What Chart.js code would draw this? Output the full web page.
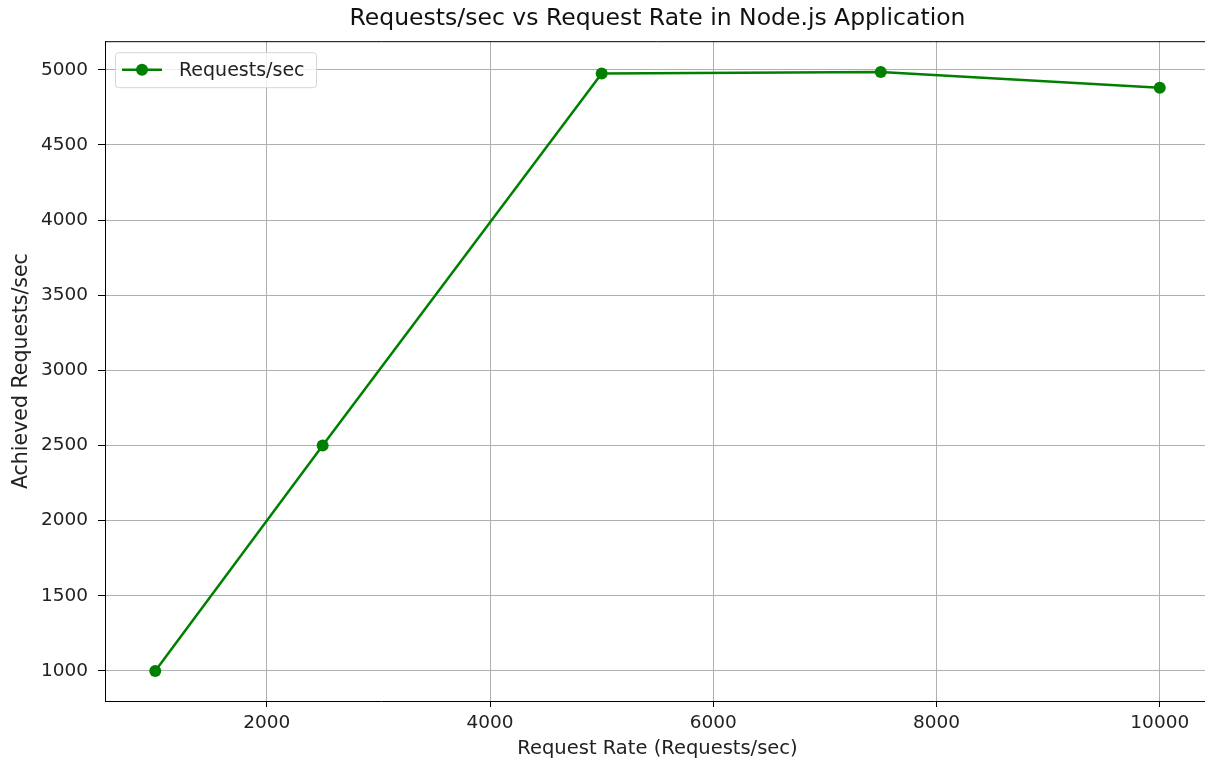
<!DOCTYPE html>
<html>
<head>
<meta charset="utf-8">
<style>
  html, body { margin: 0; padding: 0; background: #fff; overflow: hidden; }
  #clip { width: 1205px; height: 763px; overflow: hidden; }
  #wrap { width: 1216px; height: 763px; position: relative; }
</style>
<script src="https://cdn.jsdelivr.net/npm/chart.js@4/dist/chart.umd.min.js"></script>
</head>
<body>
<div id="clip"><div id="wrap"><canvas id="chart"></canvas></div></div>
<script>
/* -------------------- data -------------------- */
const requestRates = [1000, 2500, 5000, 7500, 10000];
const achievedRps  = [1000, 2500, 4975, 4985, 4880];
const xTicks = [2000, 4000, 6000, 8000, 10000];
const yTicks = [1000, 1500, 2000, 2500, 3000, 3500, 4000, 4500, 5000];

const GREEN = '#008000';
const FONT = 'DejaVu Sans';
const TEXT = '#222';

// frame (top/right spines) + legend box inside the axes, matplotlib style
const framePlugin = {
  id: 'frame',
  afterDatasetsDraw(chart) {
    const { ctx, chartArea: a } = chart;
    ctx.save();
    ctx.strokeStyle = '#000';
    ctx.lineWidth = 1;
    ctx.beginPath();
    ctx.moveTo(a.left, a.top + 0.5);
    ctx.lineTo(a.right, a.top + 0.5);
    ctx.lineTo(a.right - 0.5, a.bottom);
    ctx.stroke();

    // legend
    const ds = chart.data.datasets[0];
    const x = a.left + 10, y = a.top + 11, w = 201, h = 35;
    ctx.fillStyle = 'rgba(255,255,255,0.8)';
    ctx.strokeStyle = '#d5d5d5';
    ctx.lineWidth = 1;
    ctx.beginPath();
    ctx.roundRect(x + 0.5, y + 0.5, w, h, 3);
    ctx.fill();
    ctx.stroke();
    const cy = y + h / 2;
    ctx.strokeStyle = GREEN;
    ctx.lineWidth = 2.5;
    ctx.beginPath();
    ctx.moveTo(x + 7, cy);
    ctx.lineTo(x + 47, cy);
    ctx.stroke();
    ctx.fillStyle = GREEN;
    ctx.beginPath();
    ctx.arc(x + 27, cy, 6, 0, Math.PI * 2);
    ctx.fill();
    ctx.fillStyle = TEXT;
    ctx.font = `19px "${FONT}"`;
    ctx.textBaseline = 'middle';
    ctx.fillText(ds.label, x + 64, cy + 1);
    ctx.restore();
  }
};

const cfg = {
  type: 'line',
  data: {
    datasets: [{
      label: 'Requests/sec',
      data: requestRates.map((r, i) => ({ x: r, y: achievedRps[i] })),
      borderColor: GREEN,
      backgroundColor: GREEN,
      borderWidth: 2.5,
      pointRadius: 6,
      pointHoverRadius: 6,
      pointBorderWidth: 0,
      tension: 0,
      fill: false
    }]
  },
  options: {
    responsive: true,
    maintainAspectRatio: false,
    animation: false,
    layout: { padding: { left: 0, right: 0, top: 0, bottom: 0 } },
    plugins: {
      legend: { display: false },
      tooltip: { enabled: false },
      title: {
        display: true,
        fullSize: false,
        text: 'Requests/sec vs Request Rate in Node.js Application',
        color: '#111',
        font: { family: FONT, size: 23.5, weight: 'normal' },
        padding: { top: 5, bottom: 8 }
      }
    },
    scales: {
      x: {
        type: 'linear',
        min: 550,
        max: 10450,
        afterBuildTicks: (s) => { s.ticks = xTicks.map(v => ({ value: v })); },
        afterFit: (s) => { s.height = 62; s.paddingLeft = 0; s.paddingRight = 0; },
        ticks: {
          color: TEXT,
          font: { family: FONT, size: 18.5 },
          padding: 5,
          maxRotation: 0,
          callback: (v) => String(v)
        },
        grid: { color: '#b0b0b0', lineWidth: 1, tickLength: 6, tickColor: '#000' },
        border: { color: '#000', width: 1 },
        title: {
          display: true,
          text: 'Request Rate (Requests/sec)',
          color: TEXT,
          font: { family: FONT, size: 19.5 },
          padding: { top: 0, bottom: 2 }
        }
      },
      y: {
        type: 'linear',
        min: 800,
        max: 5190,
        afterBuildTicks: (s) => { s.ticks = yTicks.map(v => ({ value: v })); },
        afterFit: (s) => { s.width = 105; s.paddingTop = 0; s.paddingBottom = 0; },
        ticks: {
          color: TEXT,
          font: { family: FONT, size: 18.5 },
          padding: 10,
          callback: (v) => String(v)
        },
        grid: { color: '#b0b0b0', lineWidth: 1, tickLength: 7, tickColor: '#000' },
        border: { color: '#000', width: 1 },
        title: {
          display: true,
          text: 'Achieved Requests/sec',
          color: TEXT,
          font: { family: FONT, size: 20.5 },
          padding: { top: 9, bottom: 0 }
        }
      }
    }
  },
  plugins: [framePlugin]
};

new Chart(document.getElementById('chart').getContext('2d'), cfg);
</script>
</body>
</html>
